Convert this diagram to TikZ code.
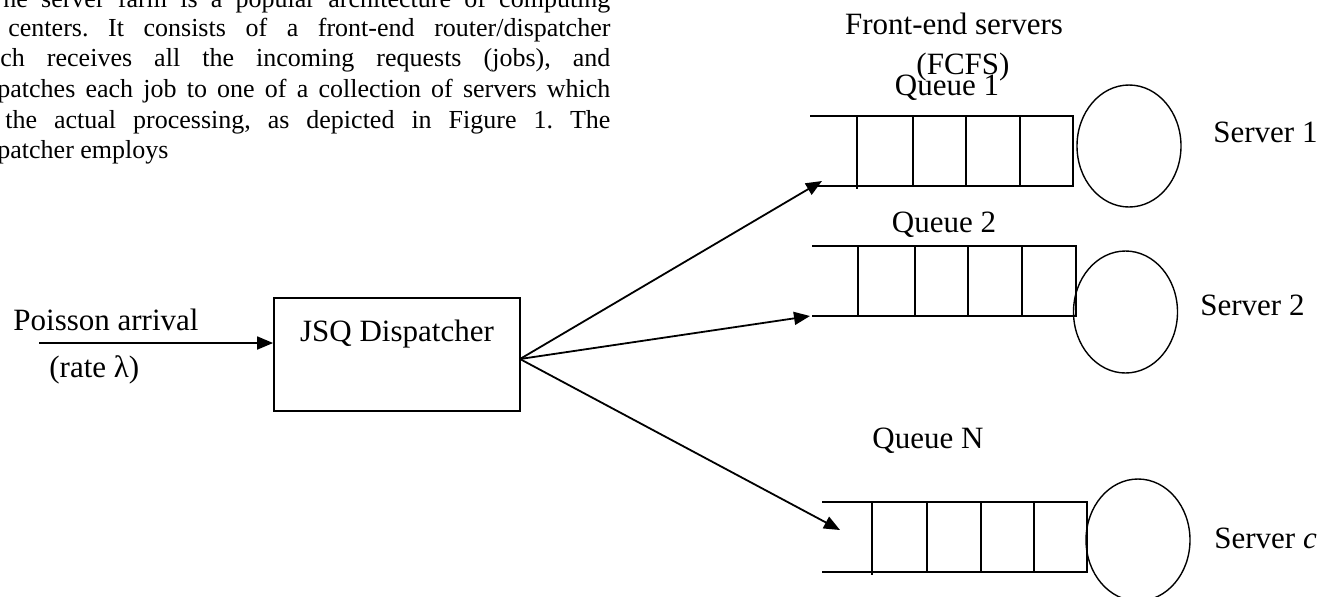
\documentclass[tikz,border=0pt]{standalone}
\usepackage{fontspec}
\setmainfont{Liberation Serif}
\usetikzlibrary{shapes.geometric,arrows.meta}
\frenchspacing
\begin{document}
\begin{tikzpicture}[x=0.5pt,y=-0.5pt,
  lbl/.style={font=\fontsize{15.5}{18}\selectfont, inner sep=0, anchor=base},
  body/.style={font=\fontsize{13}{15}\selectfont, inner sep=0, anchor=base west},
  qline/.style={line width=0.65pt},
  arr/.style={line width=0.9pt, -{Triangle[length=8pt,width=6.5pt]}},
  srv/.style={draw, ellipse, line width=0.7pt, minimum width=52pt, minimum height=61pt, inner sep=0},
  boxst/.style={draw, line width=0.9pt, minimum width=123pt, minimum height=56.5pt, inner sep=0},
]
\useasboundingbox (0,0) rectangle (1334,596);
\clip (0,0) rectangle (1334,596);

% body text fragment
\node[body] (t1) at (3,7) {\makebox[303.5pt][s]{he server farm is a popular architecture of computing}};
\node[body] (t2) at (8,36) {\makebox[301pt][s]{centers. It consists of a front-end router/dispatcher}};
\node[body] (t3) at (0,66) {\makebox[305pt][s]{ch receives all the incoming requests (jobs), and}};
\node[body] (t4) at (-3,97) {\makebox[306.5pt][s]{patches each job to one of a collection of servers which}};
\node[body] (t5) at (5,128) {\makebox[302.5pt][s]{the actual processing, as depicted in Figure 1. The}};
\node[body] (t6) at (-3,158) {patcher employs};

% dispatcher
\node[boxst] (jsq) at (397,354.5) {};
\node[lbl] (jsqt) at (397,341) {JSQ Dispatcher};
\node[lbl, anchor=base west] (poi) at (13,330) {Poisson arrival};
\node[lbl, anchor=base west] (rate) at (49,377) {(rate λ)};
\coordinate (src) at (39,343);
\draw[arr] (src) -- (src -| jsq.west);

% queues
\draw[qline] (810,116) -- (1073,116) -- (1073,186) -- (810,186);
\draw[qline] (857,116) -- (857,189);
\foreach \x in {913,966,1020} \draw[qline] (\x,116) -- (\x,186);

\draw[qline] (812,246) -- (1076,246) -- (1076,316) -- (812,316);
\foreach \x in {858,915,968,1022} \draw[qline] (\x,246) -- (\x,316);

\draw[qline] (822,502) -- (1087,502) -- (1087,572) -- (822,572);
\draw[qline] (872,502) -- (872,575);
\foreach \x in {927,981,1034} \draw[qline] (\x,502) -- (\x,572);

% servers
\node[srv] (s1) at (1129,146) {};
\node[srv] (s2) at (1125.5,312) {};
\node[srv] (sn) at (1138,540) {};

% labels
\node[lbl] (fe) at (954,34) {Front-end servers};
\node[lbl] (fcfs) at (963,74) {(FCFS)};
\node[lbl] (ql1) at (947,95) {Queue 1};
\node[lbl] (ql2) at (944,232) {Queue 2};
\node[lbl] (qln) at (928,448) {Queue N};
\node[lbl, anchor=base west] (sl1) at (1213,142) {Server 1};
\node[lbl, anchor=base west] (sl2) at (1200,315) {Server 2};
\node[lbl, anchor=base west] (sln) at (1214,548) {Server \textit{c}};

% fan-out arrows
\coordinate (fan) at (520,359);
\coordinate (q1in) at (822,181);
\coordinate (q2in) at (810,316);
\coordinate (qnin) at (840,530);
\draw[arr] (fan) -- (q1in);
\draw[arr] (fan) -- (q2in);
\draw[arr] (fan) -- (qnin);
\end{tikzpicture}
\end{document}
